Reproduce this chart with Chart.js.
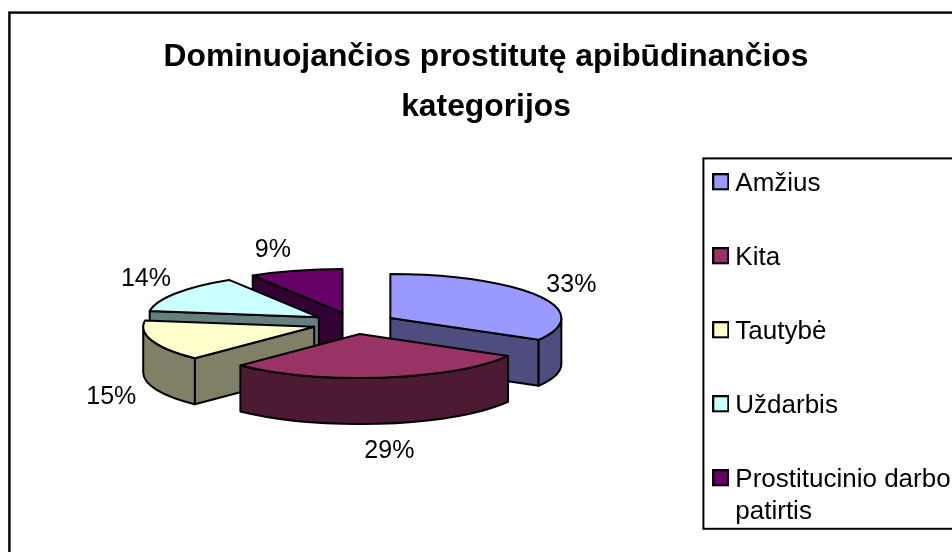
<!DOCTYPE html>
<html><head><meta charset="utf-8">
<script src="https://cdn.jsdelivr.net/npm/chart.js@4"></script>
<style>html,body{margin:0;padding:0;background:#fff}canvas{display:block}</style>
</head><body><canvas id="c" width="952" height="552"></canvas>
<script>
const categories = ['Amžius', 'Kita', 'Tautybė', 'Uždarbis', ['Prostitucinio darbo', 'patirtis']];
const values = [33.3, 29, 15, 13.9, 8.8];
const topColors = ['#9999FF', '#993366', '#FFFFCC', '#CCFFFF', '#660066'];
const wallColors = ['#4D4D80', '#4D1A33', '#808066', '#668080', '#330033'];
const paintOrder = [4, 0, 3, 2, 1];

const FONT = '"Liberation Sans", Arial, sans-serif';
const PIE = {cx: 354, cy: 323.3, r: 171, k: 44 / 171, depth: 46, explode: 42};
const LABEL_NUDGE = [[33, -11], [6, 74], [-41, 56], [-30, -14], [-23, -20]];
const LEGEND_PAD = 48;

function swatch(color) {
  // square sits 2px above the sprite's centre so text and marker line up as in the source
  const s = document.createElement('canvas');
  s.width = 17; s.height = 21;
  const g = s.getContext('2d');
  g.fillStyle = color; g.fillRect(1, 1, 15, 15);
  g.strokeStyle = '#000'; g.lineWidth = 2; g.strokeRect(1, 1, 15, 15);
  return s;
}

function faceTransform(ctx, arc) {
  ctx.translate(PIE.cx, PIE.cy);
  ctx.scale(1, PIE.k);
  ctx.translate(-arc.x, -arc.y);
}
function apexOf(arc) {
  const mid = (arc.startAngle + arc.endAngle) / 2;
  return {
    x: PIE.cx + Math.cos(mid) * PIE.explode,
    y: PIE.cy + Math.sin(mid) * PIE.explode * PIE.k
  };
}
function rimPoint(apex, a) {
  return {x: apex.x + Math.cos(a) * PIE.r, y: apex.y + Math.sin(a) * PIE.r * PIE.k};
}
function outline(ctx) {
  ctx.strokeStyle = '#000';
  ctx.lineWidth = 2;
  ctx.lineJoin = 'round';
  ctx.stroke();
}
function drawWall(ctx, apex, a, color) {
  const p = rimPoint(apex, a);
  ctx.beginPath();
  ctx.moveTo(apex.x, apex.y);
  ctx.lineTo(p.x, p.y);
  ctx.lineTo(p.x, p.y + PIE.depth);
  ctx.lineTo(apex.x, apex.y + PIE.depth);
  ctx.closePath();
  ctx.fillStyle = color;
  ctx.fill();
  outline(ctx);
}
function drawRim(ctx, apex, a0, a1, color) {
  ctx.beginPath();
  ctx.ellipse(apex.x, apex.y, PIE.r, PIE.r * PIE.k, 0, a0, a1);
  ctx.ellipse(apex.x, apex.y + PIE.depth, PIE.r, PIE.r * PIE.k, 0, a1, a0, true);
  ctx.closePath();
  ctx.fillStyle = color;
  ctx.fill();
  outline(ctx);
}

const tiltedPie = {
  id: 'tiltedPie',
  beforeDraw(chart) {
    const ctx = chart.ctx;
    ctx.save();
    ctx.fillStyle = '#fff';
    ctx.fillRect(0, 0, chart.width, chart.height);
    ctx.strokeStyle = '#000';
    ctx.lineWidth = 2.4;
    ctx.strokeRect(9.4, 12.6, 1000, 1000);
    ctx.lineWidth = 2;
    ctx.strokeRect(703.4, 158.4, 400, 370.4);
    ctx.restore();
  },
  afterLayout(chart) {
    const l = chart.legend;
    l.left = 719.3 - LEGEND_PAD;
    l.top = 122.8;
    l.right = 952;
    l.bottom = 552;
  },
  beforeDatasetDraw(chart, args) {
    const ctx = chart.ctx;
    const arcs = args.meta.data;
    paintOrder.forEach(i => {
      const arc = arcs[i];
      const apex = apexOf(arc);
      const a0 = arc.startAngle, a1 = arc.endAngle;
      ctx.save();
      // radial walls facing the viewer
      if (Math.cos(a0) < -1e-6) drawWall(ctx, apex, a0, wallColors[i]);
      if (Math.cos(a1) > 1e-6) drawWall(ctx, apex, a1, wallColors[i]);
      // front rim
      const from = Math.max(a0, 0), to = Math.min(a1, Math.PI);
      if (to > from) drawRim(ctx, apex, from, to, wallColors[i]);
      // top face, drawn by the library's own arc element
      // (the element widens its radius by offset * fix, so that is taken off first)
      const fix = 1 - Math.sin(Math.min(Math.PI, a1 - a0));
      const savedRadius = arc.outerRadius;
      arc.outerRadius = PIE.r - PIE.explode * fix;
      ctx.save();
      faceTransform(ctx, arc);
      arc.draw(ctx);
      ctx.restore();
      arc.outerRadius = savedRadius;
      const s = rimPoint(apex, a0);
      ctx.beginPath();
      ctx.moveTo(apex.x, apex.y);
      ctx.lineTo(s.x, s.y);
      ctx.ellipse(apex.x, apex.y, PIE.r, PIE.r * PIE.k, 0, a0, a1);
      ctx.closePath();
      ctx.fillStyle = topColors[i];
      ctx.fill();
      outline(ctx);
      ctx.restore();
    });
    return false;
  },
  afterDatasetsDraw(chart) {
    const ctx = chart.ctx;
    const arcs = chart.getDatasetMeta(0).data;
    ctx.save();
    ctx.font = '25px ' + FONT;
    ctx.fillStyle = '#000';
    ctx.textAlign = 'center';
    ctx.textBaseline = 'middle';
    arcs.forEach((arc, i) => {
      const p = rimPoint(apexOf(arc), (arc.startAngle + arc.endAngle) / 2);
      ctx.fillText(Math.round(values[i]) + '%', p.x + LABEL_NUDGE[i][0], p.y + LABEL_NUDGE[i][1]);
    });
    ctx.restore();
  }
};

new Chart(document.getElementById('c'), {
  type: 'pie',
  data: {
    labels: categories,
    datasets: [{
      data: values,
      backgroundColor: topColors,
      borderWidth: 0,
      offset: PIE.explode * 4,
      hoverOffset: 0
    }]
  },
  options: {
    responsive: false,
    animation: false,
    radius: PIE.r,
    layout: {padding: {left: 20}},
    events: [],
    plugins: {
      tooltip: {enabled: false},
      title: {
        display: true,
        text: ['Dominuojančios prostitutę apibūdinančios', 'kategorijos'],
        color: '#000',
        font: {family: FONT, size: 31.8, weight: 'bold', lineHeight: 1.57},
        padding: {top: 32, bottom: 0}
      },
      legend: {
        position: 'right',
        align: 'start',
        labels: {
          color: '#000',
          font: {family: FONT, size: 26, lineHeight: 1.23},
          padding: LEGEND_PAD,
          usePointStyle: true,
          pointStyleWidth: 3,
          generateLabels(chart) {
            return categories.map((text, i) => ({
              text,
              fillStyle: topColors[i],
              strokeStyle: '#000',
              lineWidth: 0,
              pointStyle: swatch(topColors[i]),
              hidden: false,
              index: i
            }));
          }
        }
      }
    }
  },
  plugins: [tiltedPie]
});
</script></body></html>
